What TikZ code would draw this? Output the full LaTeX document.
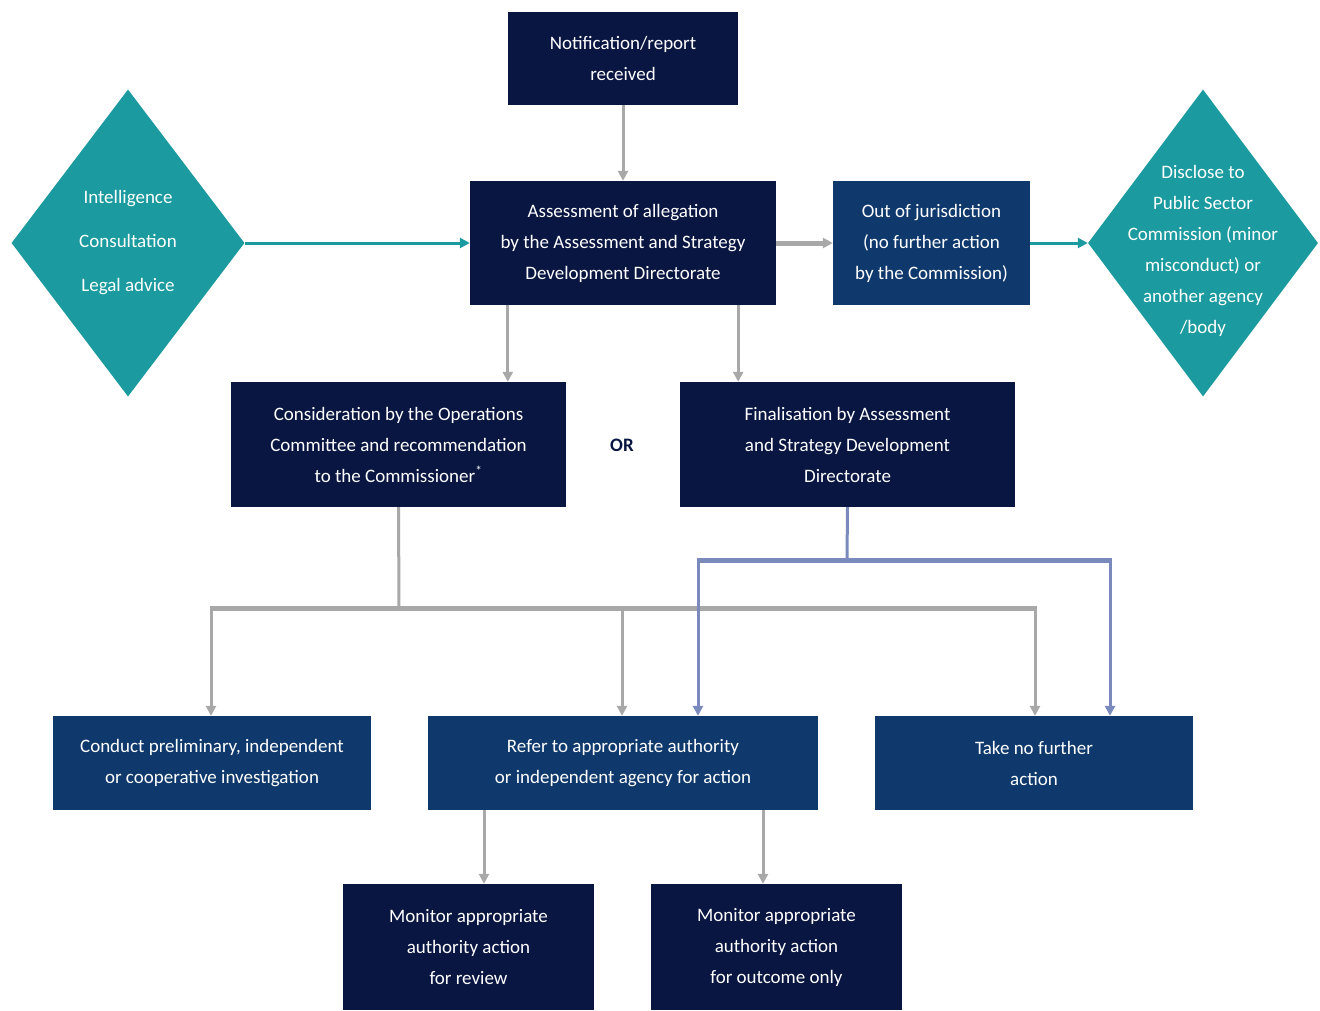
\documentclass[tikz,border=0pt]{standalone}
\usepackage{fontspec}
\setmainfont{Carlito}
\usetikzlibrary{arrows.meta,shapes.geometric}
\definecolor{navy}{RGB}{9,22,66}
\definecolor{midblue}{RGB}{15,57,108}
\definecolor{teal1}{RGB}{27,154,160}
\definecolor{gline}{RGB}{168,168,168}
\definecolor{bline}{RGB}{122,138,188}
\begin{document}
\begin{tikzpicture}[x=1pt,y=-1pt,
  box/.style={rectangle, inner sep=0pt, text=white, align=center, font=\fontsize{19}{31}\selectfont},
  navybox/.style={box, fill=navy},
  bluebox/.style={box, fill=midblue},
  tdiam/.style={diamond, fill=teal1, inner sep=0pt},
  dtext/.style={text=white, align=center, font=\fontsize{19}{31}\selectfont},
  tip/.style={-{Triangle[length=10pt,width=10pt]}},
  garrow/.style={draw=gline, line width=3pt, tip},
  gline/.style={draw=gline, line width=3pt},
  gbus/.style={draw=gline, line width=5pt},
  barrow/.style={draw=bline, line width=3pt, tip},
  bline/.style={draw=bline, line width=3pt},
  bbus/.style={draw=bline, line width=5pt},
  tarrow/.style={draw=teal1, line width=3pt, tip}
]
\useasboundingbox (0,0) rectangle (1320,1010);

% boxes
\node[navybox, minimum width=230pt, minimum height=93pt] (notif) at (623,58.5) {Notification/report\\received};
\node[navybox, minimum width=306pt, minimum height=124pt] (assess) at (623,243) {Assessment of allegation\\by the Assessment and Strategy\\Development Directorate};
\node[bluebox, minimum width=197pt, minimum height=124pt] (out) at (931.5,243) {Out of jurisdiction\\(no further action\\by the Commission)};
\node[navybox, minimum width=335pt, minimum height=125pt] (cons) at (398.5,444.5) {Consideration by the Operations\\Committee and recommendation\\to the Commissioner\textsuperscript{*}};
\node[navybox, minimum width=335pt, minimum height=125pt] (final) at (847.5,444.5) {Finalisation by Assessment\\and Strategy Development\\Directorate};
\node[text=navy, font=\fontsize{19}{31}\selectfont\bfseries] (or) at (622,445) {OR};
\node[bluebox, minimum width=318pt, minimum height=94pt] (conduct) at (212,763) {Conduct preliminary, independent\\or cooperative investigation};
\node[bluebox, minimum width=390pt, minimum height=94pt] (refer) at (623,763) {Refer to appropriate authority\\or independent agency for action};
\node[bluebox, minimum width=318pt, minimum height=94pt] (take) at (1034,763) {Take no further\\action};
\node[navybox, minimum width=251pt, minimum height=126pt] (mon1) at (468.5,947) {Monitor appropriate\\authority action\\for review};
\node[navybox, minimum width=251pt, minimum height=126pt] (mon2) at (776.5,947) {Monitor appropriate\\authority action\\for outcome only};

% diamonds
\node[tdiam, minimum width=233pt, minimum height=307pt] (dl) at (128,243) {};
\node[dtext, font=\fontsize{19}{44}\selectfont] (dltext) at (dl.center) {Intelligence\\Consultation\\Legal advice};
\node[tdiam, minimum width=230pt, minimum height=307pt] (dr) at (1203,243) {};
\node[dtext] (drtext) at ([yshift=-8pt]dr.center) {Disclose to\\Public Sector\\Commission (minor\\misconduct) or\\another agency\\/body};

% top connectors
\draw[garrow] (notif.south) -- (assess.north);
\draw[tarrow] (dl.east) -- (assess.west);
\draw[garrow, line width=5pt] (assess.east) -- (out.west);
\draw[tarrow] (out.east) -- (dr.west);
\coordinate (a1) at ([xshift=38pt]assess.south west);
\coordinate (a2) at ([xshift=-38pt]assess.south east);
\draw[garrow] (a1) -- (a1 |- cons.north);
\draw[garrow] (a2) -- (a2 |- final.north);

% consideration tree
\coordinate (cj) at (399,608);
\coordinate (cl) at (211,608);
\coordinate (cm) at (622,608);
\coordinate (cr) at (1035,608);
\draw[gline] (cons.south) -- (cj);
\draw[gbus] ([xshift=-1.5pt]cl) -- ([xshift=1.5pt]cr);
\draw[garrow] ([yshift=-2pt]cl) -- (cl |- conduct.north);
\draw[garrow] ([yshift=-2pt]cm) -- (cm |- refer.north);
\draw[garrow] ([yshift=-2pt]cr) -- (cr |- take.north);

% finalisation tree
\coordinate (fj) at (847,560);
\coordinate (fl) at (698,560);
\coordinate (fr) at (1110,560);
\draw[bline] (final.south) -- (fj);
\draw[bbus] ([xshift=-1.5pt]fl) -- ([xshift=1.5pt]fr);
\draw[barrow] ([yshift=-2pt]fl) -- (fl |- refer.north);
\draw[barrow] ([yshift=-2pt]fr) -- (fr |- take.north);

% refer to monitors
\coordinate (r1) at (484,810);
\coordinate (r2) at (763,810);
\draw[garrow] (r1) -- (r1 |- mon1.north);
\draw[garrow] (r2) -- (r2 |- mon2.north);
\end{tikzpicture}
\end{document}
